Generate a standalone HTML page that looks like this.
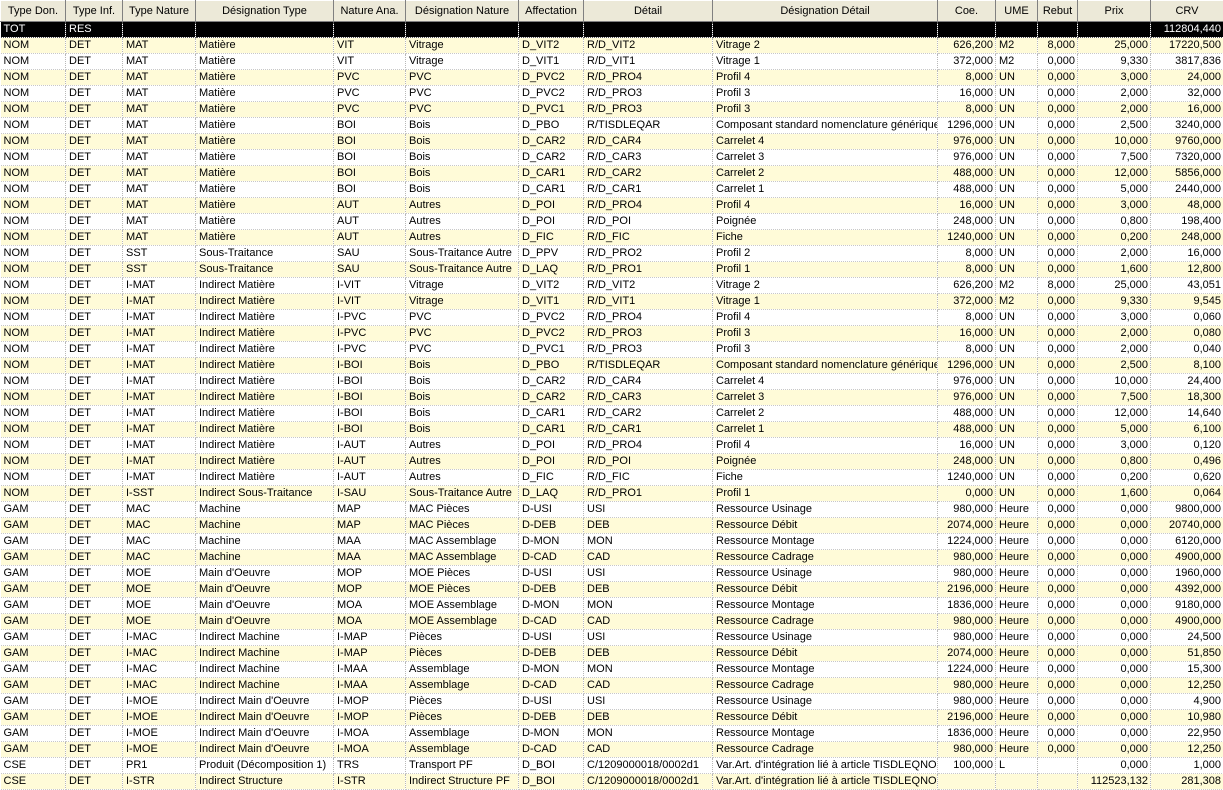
<!DOCTYPE html>
<html><head><meta charset="utf-8"><style>
body{margin:0;width:1223px;height:788px;overflow:hidden;background:#fff;font-family:"Liberation Sans",Arial,sans-serif;font-size:11px;color:#000}
table{border-collapse:collapse;table-layout:fixed;width:1223px}
td,th{padding:0 0 0 3px;white-space:nowrap;overflow:hidden;height:15px;line-height:15px;border-right:1px dotted #b8b8b8;border-bottom:1px dotted #c8c8c8}
th{height:20px;line-height:20px;background:#ece9d8;font-weight:normal;text-align:center;border-top:1px solid #fff;border-left:1px solid #fff;border-right:1px solid #808080;border-bottom:1px solid #808080;padding:0}
tr.t td{background:#000;color:#fff;border-color:#555}
tbody tr:nth-child(even) td{background:#fffbd8}
td.n{text-align:right;padding:0 2px 0 0}
</style></head><body>
<table>
<colgroup><col style="width:65px"><col style="width:57px"><col style="width:73px"><col style="width:138px"><col style="width:72px"><col style="width:113px"><col style="width:65px"><col style="width:129px"><col style="width:225px"><col style="width:58px"><col style="width:42px"><col style="width:40px"><col style="width:73px"><col style="width:73px"></colgroup>
<thead><tr><th>Type Don.</th><th>Type Inf.</th><th>Type Nature</th><th>Désignation Type</th><th>Nature Ana.</th><th>Désignation Nature</th><th>Affectation</th><th>Détail</th><th>Désignation Détail</th><th>Coe.</th><th>UME</th><th>Rebut</th><th>Prix</th><th>CRV</th></tr></thead>
<tbody>
<tr class="t"><td>TOT</td><td>RES</td><td></td><td></td><td></td><td></td><td></td><td></td><td></td><td></td><td></td><td></td><td></td><td class="n">112804,440</td></tr>
<tr><td>NOM</td><td>DET</td><td>MAT</td><td>Matière</td><td>VIT</td><td>Vitrage</td><td>D_VIT2</td><td>R/D_VIT2</td><td>Vitrage 2</td><td class="n">626,200</td><td>M2</td><td class="n">8,000</td><td class="n">25,000</td><td class="n">17220,500</td></tr>
<tr><td>NOM</td><td>DET</td><td>MAT</td><td>Matière</td><td>VIT</td><td>Vitrage</td><td>D_VIT1</td><td>R/D_VIT1</td><td>Vitrage 1</td><td class="n">372,000</td><td>M2</td><td class="n">0,000</td><td class="n">9,330</td><td class="n">3817,836</td></tr>
<tr><td>NOM</td><td>DET</td><td>MAT</td><td>Matière</td><td>PVC</td><td>PVC</td><td>D_PVC2</td><td>R/D_PRO4</td><td>Profil 4</td><td class="n">8,000</td><td>UN</td><td class="n">0,000</td><td class="n">3,000</td><td class="n">24,000</td></tr>
<tr><td>NOM</td><td>DET</td><td>MAT</td><td>Matière</td><td>PVC</td><td>PVC</td><td>D_PVC2</td><td>R/D_PRO3</td><td>Profil 3</td><td class="n">16,000</td><td>UN</td><td class="n">0,000</td><td class="n">2,000</td><td class="n">32,000</td></tr>
<tr><td>NOM</td><td>DET</td><td>MAT</td><td>Matière</td><td>PVC</td><td>PVC</td><td>D_PVC1</td><td>R/D_PRO3</td><td>Profil 3</td><td class="n">8,000</td><td>UN</td><td class="n">0,000</td><td class="n">2,000</td><td class="n">16,000</td></tr>
<tr><td>NOM</td><td>DET</td><td>MAT</td><td>Matière</td><td>BOI</td><td>Bois</td><td>D_PBO</td><td>R/TISDLEQAR</td><td>Composant standard nomenclature générique</td><td class="n">1296,000</td><td>UN</td><td class="n">0,000</td><td class="n">2,500</td><td class="n">3240,000</td></tr>
<tr><td>NOM</td><td>DET</td><td>MAT</td><td>Matière</td><td>BOI</td><td>Bois</td><td>D_CAR2</td><td>R/D_CAR4</td><td>Carrelet 4</td><td class="n">976,000</td><td>UN</td><td class="n">0,000</td><td class="n">10,000</td><td class="n">9760,000</td></tr>
<tr><td>NOM</td><td>DET</td><td>MAT</td><td>Matière</td><td>BOI</td><td>Bois</td><td>D_CAR2</td><td>R/D_CAR3</td><td>Carrelet 3</td><td class="n">976,000</td><td>UN</td><td class="n">0,000</td><td class="n">7,500</td><td class="n">7320,000</td></tr>
<tr><td>NOM</td><td>DET</td><td>MAT</td><td>Matière</td><td>BOI</td><td>Bois</td><td>D_CAR1</td><td>R/D_CAR2</td><td>Carrelet 2</td><td class="n">488,000</td><td>UN</td><td class="n">0,000</td><td class="n">12,000</td><td class="n">5856,000</td></tr>
<tr><td>NOM</td><td>DET</td><td>MAT</td><td>Matière</td><td>BOI</td><td>Bois</td><td>D_CAR1</td><td>R/D_CAR1</td><td>Carrelet 1</td><td class="n">488,000</td><td>UN</td><td class="n">0,000</td><td class="n">5,000</td><td class="n">2440,000</td></tr>
<tr><td>NOM</td><td>DET</td><td>MAT</td><td>Matière</td><td>AUT</td><td>Autres</td><td>D_POI</td><td>R/D_PRO4</td><td>Profil 4</td><td class="n">16,000</td><td>UN</td><td class="n">0,000</td><td class="n">3,000</td><td class="n">48,000</td></tr>
<tr><td>NOM</td><td>DET</td><td>MAT</td><td>Matière</td><td>AUT</td><td>Autres</td><td>D_POI</td><td>R/D_POI</td><td>Poignée</td><td class="n">248,000</td><td>UN</td><td class="n">0,000</td><td class="n">0,800</td><td class="n">198,400</td></tr>
<tr><td>NOM</td><td>DET</td><td>MAT</td><td>Matière</td><td>AUT</td><td>Autres</td><td>D_FIC</td><td>R/D_FIC</td><td>Fiche</td><td class="n">1240,000</td><td>UN</td><td class="n">0,000</td><td class="n">0,200</td><td class="n">248,000</td></tr>
<tr><td>NOM</td><td>DET</td><td>SST</td><td>Sous-Traitance</td><td>SAU</td><td>Sous-Traitance Autre</td><td>D_PPV</td><td>R/D_PRO2</td><td>Profil 2</td><td class="n">8,000</td><td>UN</td><td class="n">0,000</td><td class="n">2,000</td><td class="n">16,000</td></tr>
<tr><td>NOM</td><td>DET</td><td>SST</td><td>Sous-Traitance</td><td>SAU</td><td>Sous-Traitance Autre</td><td>D_LAQ</td><td>R/D_PRO1</td><td>Profil 1</td><td class="n">8,000</td><td>UN</td><td class="n">0,000</td><td class="n">1,600</td><td class="n">12,800</td></tr>
<tr><td>NOM</td><td>DET</td><td>I-MAT</td><td>Indirect Matière</td><td>I-VIT</td><td>Vitrage</td><td>D_VIT2</td><td>R/D_VIT2</td><td>Vitrage 2</td><td class="n">626,200</td><td>M2</td><td class="n">8,000</td><td class="n">25,000</td><td class="n">43,051</td></tr>
<tr><td>NOM</td><td>DET</td><td>I-MAT</td><td>Indirect Matière</td><td>I-VIT</td><td>Vitrage</td><td>D_VIT1</td><td>R/D_VIT1</td><td>Vitrage 1</td><td class="n">372,000</td><td>M2</td><td class="n">0,000</td><td class="n">9,330</td><td class="n">9,545</td></tr>
<tr><td>NOM</td><td>DET</td><td>I-MAT</td><td>Indirect Matière</td><td>I-PVC</td><td>PVC</td><td>D_PVC2</td><td>R/D_PRO4</td><td>Profil 4</td><td class="n">8,000</td><td>UN</td><td class="n">0,000</td><td class="n">3,000</td><td class="n">0,060</td></tr>
<tr><td>NOM</td><td>DET</td><td>I-MAT</td><td>Indirect Matière</td><td>I-PVC</td><td>PVC</td><td>D_PVC2</td><td>R/D_PRO3</td><td>Profil 3</td><td class="n">16,000</td><td>UN</td><td class="n">0,000</td><td class="n">2,000</td><td class="n">0,080</td></tr>
<tr><td>NOM</td><td>DET</td><td>I-MAT</td><td>Indirect Matière</td><td>I-PVC</td><td>PVC</td><td>D_PVC1</td><td>R/D_PRO3</td><td>Profil 3</td><td class="n">8,000</td><td>UN</td><td class="n">0,000</td><td class="n">2,000</td><td class="n">0,040</td></tr>
<tr><td>NOM</td><td>DET</td><td>I-MAT</td><td>Indirect Matière</td><td>I-BOI</td><td>Bois</td><td>D_PBO</td><td>R/TISDLEQAR</td><td>Composant standard nomenclature générique</td><td class="n">1296,000</td><td>UN</td><td class="n">0,000</td><td class="n">2,500</td><td class="n">8,100</td></tr>
<tr><td>NOM</td><td>DET</td><td>I-MAT</td><td>Indirect Matière</td><td>I-BOI</td><td>Bois</td><td>D_CAR2</td><td>R/D_CAR4</td><td>Carrelet 4</td><td class="n">976,000</td><td>UN</td><td class="n">0,000</td><td class="n">10,000</td><td class="n">24,400</td></tr>
<tr><td>NOM</td><td>DET</td><td>I-MAT</td><td>Indirect Matière</td><td>I-BOI</td><td>Bois</td><td>D_CAR2</td><td>R/D_CAR3</td><td>Carrelet 3</td><td class="n">976,000</td><td>UN</td><td class="n">0,000</td><td class="n">7,500</td><td class="n">18,300</td></tr>
<tr><td>NOM</td><td>DET</td><td>I-MAT</td><td>Indirect Matière</td><td>I-BOI</td><td>Bois</td><td>D_CAR1</td><td>R/D_CAR2</td><td>Carrelet 2</td><td class="n">488,000</td><td>UN</td><td class="n">0,000</td><td class="n">12,000</td><td class="n">14,640</td></tr>
<tr><td>NOM</td><td>DET</td><td>I-MAT</td><td>Indirect Matière</td><td>I-BOI</td><td>Bois</td><td>D_CAR1</td><td>R/D_CAR1</td><td>Carrelet 1</td><td class="n">488,000</td><td>UN</td><td class="n">0,000</td><td class="n">5,000</td><td class="n">6,100</td></tr>
<tr><td>NOM</td><td>DET</td><td>I-MAT</td><td>Indirect Matière</td><td>I-AUT</td><td>Autres</td><td>D_POI</td><td>R/D_PRO4</td><td>Profil 4</td><td class="n">16,000</td><td>UN</td><td class="n">0,000</td><td class="n">3,000</td><td class="n">0,120</td></tr>
<tr><td>NOM</td><td>DET</td><td>I-MAT</td><td>Indirect Matière</td><td>I-AUT</td><td>Autres</td><td>D_POI</td><td>R/D_POI</td><td>Poignée</td><td class="n">248,000</td><td>UN</td><td class="n">0,000</td><td class="n">0,800</td><td class="n">0,496</td></tr>
<tr><td>NOM</td><td>DET</td><td>I-MAT</td><td>Indirect Matière</td><td>I-AUT</td><td>Autres</td><td>D_FIC</td><td>R/D_FIC</td><td>Fiche</td><td class="n">1240,000</td><td>UN</td><td class="n">0,000</td><td class="n">0,200</td><td class="n">0,620</td></tr>
<tr><td>NOM</td><td>DET</td><td>I-SST</td><td>Indirect Sous-Traitance</td><td>I-SAU</td><td>Sous-Traitance Autre</td><td>D_LAQ</td><td>R/D_PRO1</td><td>Profil 1</td><td class="n">0,000</td><td>UN</td><td class="n">0,000</td><td class="n">1,600</td><td class="n">0,064</td></tr>
<tr><td>GAM</td><td>DET</td><td>MAC</td><td>Machine</td><td>MAP</td><td>MAC Pièces</td><td>D-USI</td><td>USI</td><td>Ressource Usinage</td><td class="n">980,000</td><td>Heure</td><td class="n">0,000</td><td class="n">0,000</td><td class="n">9800,000</td></tr>
<tr><td>GAM</td><td>DET</td><td>MAC</td><td>Machine</td><td>MAP</td><td>MAC Pièces</td><td>D-DEB</td><td>DEB</td><td>Ressource Débit</td><td class="n">2074,000</td><td>Heure</td><td class="n">0,000</td><td class="n">0,000</td><td class="n">20740,000</td></tr>
<tr><td>GAM</td><td>DET</td><td>MAC</td><td>Machine</td><td>MAA</td><td>MAC Assemblage</td><td>D-MON</td><td>MON</td><td>Ressource Montage</td><td class="n">1224,000</td><td>Heure</td><td class="n">0,000</td><td class="n">0,000</td><td class="n">6120,000</td></tr>
<tr><td>GAM</td><td>DET</td><td>MAC</td><td>Machine</td><td>MAA</td><td>MAC Assemblage</td><td>D-CAD</td><td>CAD</td><td>Ressource Cadrage</td><td class="n">980,000</td><td>Heure</td><td class="n">0,000</td><td class="n">0,000</td><td class="n">4900,000</td></tr>
<tr><td>GAM</td><td>DET</td><td>MOE</td><td>Main d'Oeuvre</td><td>MOP</td><td>MOE Pièces</td><td>D-USI</td><td>USI</td><td>Ressource Usinage</td><td class="n">980,000</td><td>Heure</td><td class="n">0,000</td><td class="n">0,000</td><td class="n">1960,000</td></tr>
<tr><td>GAM</td><td>DET</td><td>MOE</td><td>Main d'Oeuvre</td><td>MOP</td><td>MOE Pièces</td><td>D-DEB</td><td>DEB</td><td>Ressource Débit</td><td class="n">2196,000</td><td>Heure</td><td class="n">0,000</td><td class="n">0,000</td><td class="n">4392,000</td></tr>
<tr><td>GAM</td><td>DET</td><td>MOE</td><td>Main d'Oeuvre</td><td>MOA</td><td>MOE Assemblage</td><td>D-MON</td><td>MON</td><td>Ressource Montage</td><td class="n">1836,000</td><td>Heure</td><td class="n">0,000</td><td class="n">0,000</td><td class="n">9180,000</td></tr>
<tr><td>GAM</td><td>DET</td><td>MOE</td><td>Main d'Oeuvre</td><td>MOA</td><td>MOE Assemblage</td><td>D-CAD</td><td>CAD</td><td>Ressource Cadrage</td><td class="n">980,000</td><td>Heure</td><td class="n">0,000</td><td class="n">0,000</td><td class="n">4900,000</td></tr>
<tr><td>GAM</td><td>DET</td><td>I-MAC</td><td>Indirect Machine</td><td>I-MAP</td><td>Pièces</td><td>D-USI</td><td>USI</td><td>Ressource Usinage</td><td class="n">980,000</td><td>Heure</td><td class="n">0,000</td><td class="n">0,000</td><td class="n">24,500</td></tr>
<tr><td>GAM</td><td>DET</td><td>I-MAC</td><td>Indirect Machine</td><td>I-MAP</td><td>Pièces</td><td>D-DEB</td><td>DEB</td><td>Ressource Débit</td><td class="n">2074,000</td><td>Heure</td><td class="n">0,000</td><td class="n">0,000</td><td class="n">51,850</td></tr>
<tr><td>GAM</td><td>DET</td><td>I-MAC</td><td>Indirect Machine</td><td>I-MAA</td><td>Assemblage</td><td>D-MON</td><td>MON</td><td>Ressource Montage</td><td class="n">1224,000</td><td>Heure</td><td class="n">0,000</td><td class="n">0,000</td><td class="n">15,300</td></tr>
<tr><td>GAM</td><td>DET</td><td>I-MAC</td><td>Indirect Machine</td><td>I-MAA</td><td>Assemblage</td><td>D-CAD</td><td>CAD</td><td>Ressource Cadrage</td><td class="n">980,000</td><td>Heure</td><td class="n">0,000</td><td class="n">0,000</td><td class="n">12,250</td></tr>
<tr><td>GAM</td><td>DET</td><td>I-MOE</td><td>Indirect Main d'Oeuvre</td><td>I-MOP</td><td>Pièces</td><td>D-USI</td><td>USI</td><td>Ressource Usinage</td><td class="n">980,000</td><td>Heure</td><td class="n">0,000</td><td class="n">0,000</td><td class="n">4,900</td></tr>
<tr><td>GAM</td><td>DET</td><td>I-MOE</td><td>Indirect Main d'Oeuvre</td><td>I-MOP</td><td>Pièces</td><td>D-DEB</td><td>DEB</td><td>Ressource Débit</td><td class="n">2196,000</td><td>Heure</td><td class="n">0,000</td><td class="n">0,000</td><td class="n">10,980</td></tr>
<tr><td>GAM</td><td>DET</td><td>I-MOE</td><td>Indirect Main d'Oeuvre</td><td>I-MOA</td><td>Assemblage</td><td>D-MON</td><td>MON</td><td>Ressource Montage</td><td class="n">1836,000</td><td>Heure</td><td class="n">0,000</td><td class="n">0,000</td><td class="n">22,950</td></tr>
<tr><td>GAM</td><td>DET</td><td>I-MOE</td><td>Indirect Main d'Oeuvre</td><td>I-MOA</td><td>Assemblage</td><td>D-CAD</td><td>CAD</td><td>Ressource Cadrage</td><td class="n">980,000</td><td>Heure</td><td class="n">0,000</td><td class="n">0,000</td><td class="n">12,250</td></tr>
<tr><td>CSE</td><td>DET</td><td>PR1</td><td>Produit (Décomposition 1)</td><td>TRS</td><td>Transport PF</td><td>D_BOI</td><td>C/1209000018/0002d1</td><td>Var.Art. d'intégration lié à article TISDLEQNO</td><td class="n">100,000</td><td>L</td><td class="n"></td><td class="n">0,000</td><td class="n">1,000</td></tr>
<tr><td>CSE</td><td>DET</td><td>I-STR</td><td>Indirect Structure</td><td>I-STR</td><td>Indirect Structure PF</td><td>D_BOI</td><td>C/1209000018/0002d1</td><td>Var.Art. d'intégration lié à article TISDLEQNO</td><td class="n"></td><td></td><td class="n"></td><td class="n">112523,132</td><td class="n">281,308</td></tr>
</tbody></table>
</body></html>
